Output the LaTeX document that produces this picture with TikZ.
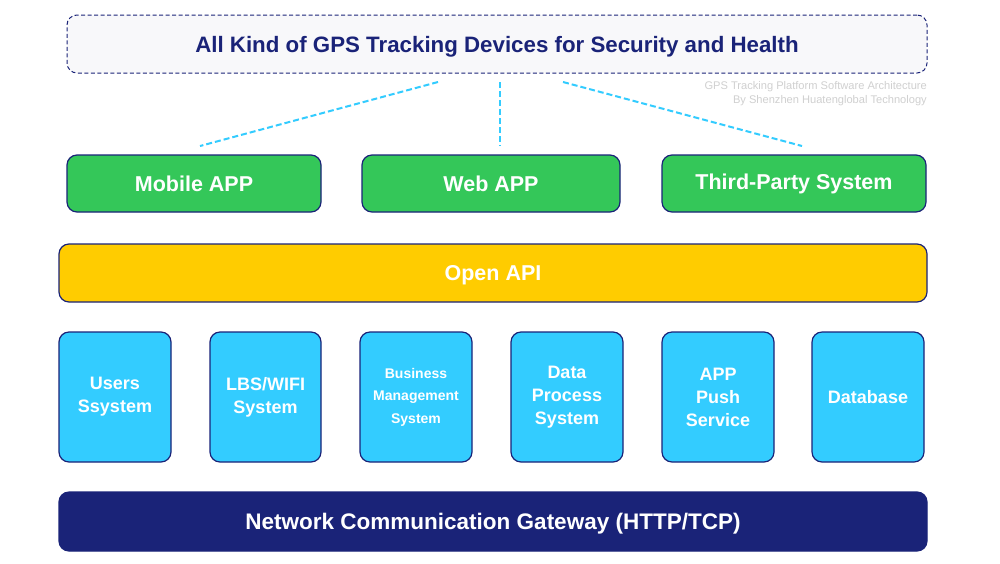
\documentclass[tikz,border=0pt]{standalone}
\usepackage{fontspec}
\setmainfont{Liberation Sans}
\definecolor{navy}{RGB}{26,35,120}
\definecolor{grn}{RGB}{52,199,89}
\definecolor{yel}{RGB}{255,204,0}
\definecolor{sky}{RGB}{51,204,255}
\definecolor{topfill}{RGB}{248,248,250}
\definecolor{wm}{RGB}{208,208,208}
\begin{document}
\begin{tikzpicture}[x=1pt,y=-1pt,
  box/.style={draw=navy,line width=1.2pt,rounded corners=10pt,text=white,font=\bfseries,align=center,inner sep=0pt},
  greenbox/.style={box,fill=grn,minimum height=57pt,font=\fontsize{21.5}{24}\selectfont\bfseries},
  bluebox/.style={box,fill=sky,minimum width=112pt,minimum height=130pt,font=\fontsize{18}{23}\selectfont\bfseries},
  cyanline/.style={draw=sky,line width=2pt,dash pattern=on 6pt off 3pt}]
\useasboundingbox (0,0) rectangle (1000,563);
\fill[white] (0,0) rectangle (1000,563);
% top box
\node[draw=navy,line width=1pt,dash pattern=on 4pt off 2.5pt,rounded corners=10pt,fill=topfill,minimum width=860pt,minimum height=58pt,inner sep=0pt,text height=21pt,text depth=4pt,text=navy,font=\fontsize{22.3}{24}\selectfont\bfseries] (top) at (497,44) {All Kind of GPS Tracking Devices for Security and Health};
\node[anchor=north east,align=right,text=wm,font=\fontsize{11.1}{14}\selectfont,inner sep=0pt] (wm) at (927,81) {GPS Tracking Platform Software Architecture\\By Shenzhen Huatenglobal Technology};
% green row
\node[greenbox,minimum width=254pt] (mob) at (194,183.5) {Mobile APP};
\node[greenbox,minimum width=258pt] (web) at (491,183.5) {Web APP};
\node[greenbox,minimum width=264pt] (third) at (794,183.5) {Third-Party System};
% connectors
\coordinate (c1) at (438,82);
\coordinate (c2) at (500,82);
\coordinate (c3) at (563,82);
\coordinate (e1) at (200,146);
\coordinate (e2) at (500,146);
\coordinate (e3) at (802,146);
\draw[cyanline] (c1) -- (e1);
\draw[cyanline] (c2) -- (e2);
\draw[cyanline] (c3) -- (e3);
% open api
\node[box,fill=yel,minimum width=868pt,minimum height=58pt,text height=19pt,text depth=4pt,font=\fontsize{21.5}{24}\selectfont\bfseries] (api) at (493,273) {Open API};
% blue row
\node[bluebox] (users) at (115,397) {Users\\Ssystem};
\node[bluebox,minimum width=111pt] (lbs) at (265.5,397) {LBS/WIFI\\System};
\node[bluebox,font=\fontsize{14}{22.5}\selectfont\bfseries] (bms) at (416,397) {Business\\Management\\System};
\node[bluebox] (dps) at (567,397) {Data\\Process\\System};
\node[bluebox] (push) at (718,397) {APP\\Push\\Service};
\node[bluebox] (db) at (868,397) {Database};
% gateway
\node[box,fill=navy,minimum width=868pt,minimum height=59pt,text height=20pt,text depth=4pt,font=\fontsize{22.5}{24}\selectfont\bfseries] (gw) at (493,521.5) {Network Communication Gateway (HTTP/TCP)};
\end{tikzpicture}
\end{document}
